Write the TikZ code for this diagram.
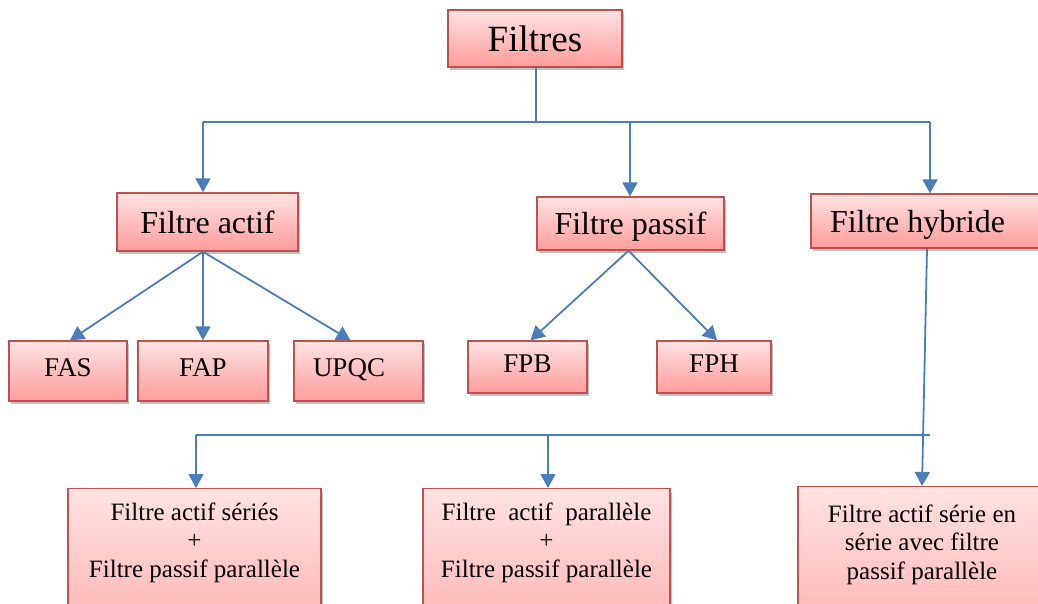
\documentclass[tikz,border=0pt]{standalone}
\usepackage{fontspec}
\setmainfont{Liberation Serif}
\usetikzlibrary{arrows.meta,shadows,calc}
\definecolor{boxborder}{HTML}{C0504D}
\definecolor{boxtop}{HTML}{FFE2E2}
\definecolor{boxbot}{HTML}{FF9C9C}
\definecolor{arrblue}{HTML}{4A7EBB}
\begin{document}
\begin{tikzpicture}[x=1pt,y=-1pt,
  box/.style={draw=boxborder, line width=1.4pt, top color=boxtop, bottom color=boxbot,
    drop shadow={shadow xshift=2pt,shadow yshift=-3pt,opacity=0.35,fill=black!70},
    inner sep=0pt, text=black},
  big/.style={font=\fontsize{37}{40}\selectfont, text height=25pt, text depth=0pt},
  mid/.style={font=\fontsize{32}{36}\selectfont, text height=22pt, text depth=0pt},
  sml/.style={font=\fontsize{27}{30}\selectfont, text height=18pt, text depth=8pt},
  low/.style={anchor=north, align=center, font=\fontsize{25}{28.5}\selectfont, text depth=110pt},
  ln/.style={draw=arrblue, line width=1.8pt},
  arr/.style={ln, -{Triangle[length=14pt,width=15pt]}}]
\useasboundingbox (0,0) rectangle (1038,603);
\clip (0,0) rectangle (1038,603);

% boxes
\node[box, big, minimum width=174pt, minimum height=57pt] (root) at (535,38.5) {Filtres};
\node[box, mid, minimum width=181pt, minimum height=58pt] (actif) at (207.5,222) {Filtre actif};
\node[box, mid, minimum width=187pt, minimum height=53pt] (passif) at (630.5,223.5) {Filtre passif};
\node[box, mid, minimum height=54pt, text width=201pt, inner xsep=19pt, align=flush left] (hybride) at (930.5,221) {Filtre hybride};

\node[box, sml, minimum width=118pt, minimum height=60pt] (fas) at (68,371) {FAS};
\node[box, sml, minimum width=130pt, minimum height=60pt] (fap) at (203,371) {FAP};
\node[box, sml, minimum height=60pt, text width=91pt, inner xsep=19pt, align=flush left] (upqc) at (358.5,371) {UPQC};
\node[box, sml, minimum width=119pt, minimum height=52pt] (fpb) at (527.5,367) {FPB};
\node[box, sml, minimum width=114pt, minimum height=52pt] (fph) at (714,367) {FPH};

\node[box, low, minimum width=253pt, inner ysep=14pt] (b1) at (194.5,488) {Filtre actif sériés\\+\\Filtre passif parallèle};
\node[box, low, minimum width=247pt, inner ysep=14pt] (b2) at (546.5,488) {Filtre\ \ actif\ \ parallèle\\+\\Filtre passif parallèle};
\node[box, low, minimum width=248pt, inner ysep=18pt] (b3) at (922,486) {Filtre actif série en\\série avec filtre\\passif parallèle};

% top tree
\coordinate (hub) at (536,122);
\coordinate (hl) at (203,122);
\coordinate (hm) at (630,122);
\coordinate (hr) at (930,122);
\draw[ln] (root.south -| hub) -- (hub);
\draw[ln] (hl) -- (hr);
\draw[arr] (hl) -- (hl |- actif.north);
\draw[arr] (hm) -- (hm |- passif.north);
\draw[arr] (hr) -- (hr |- hybride.north);

% actif branches
\coordinate (as) at (fap.north |- actif.south);
\draw[arr] (as) -- ($(fas.north)+(2,0)$);
\draw[arr] (as) -- (fap.north);
\draw[arr] (as) -- ($(upqc.north)+(-8,0)$);

% passif branches
\coordinate (ps) at ($(passif.south)+(-2,0)$);
\draw[arr] (ps) -- ($(fpb.north)+(3,0)$);
\draw[arr] (ps) -- ($(fph.north)+(3,0)$);

% hybride branch
\coordinate (hs) at ($(hybride.south)+(-3.5,0)$);
\draw[arr] (hs) -- (b3.north);

% bottom bus
\coordinate (bl) at (196,435);
\coordinate (br) at (930,435);
\coordinate (bm) at (548,435);
\draw[ln] (bl) -- (br);
\draw[arr] (bl) -- (bl |- b1.north);
\draw[arr] (bm) -- (bm |- b2.north);
\end{tikzpicture}
\end{document}
